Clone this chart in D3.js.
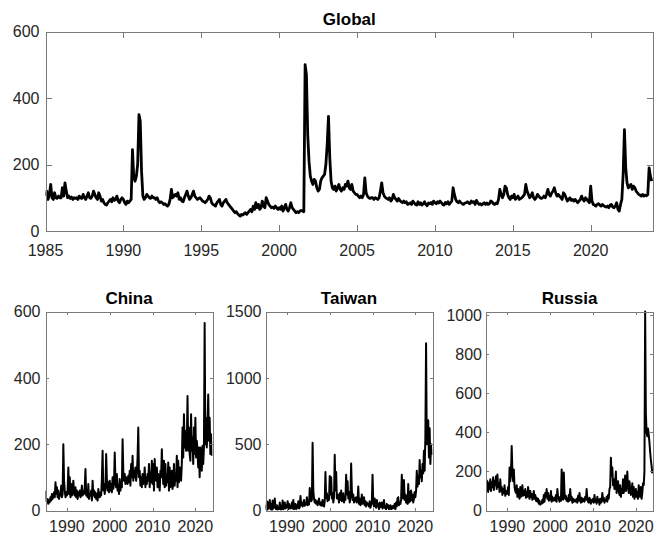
<!DOCTYPE html>
<html lang="en">
<head>
<meta charset="UTF-8">
<title>Geopolitical risk</title>
<script src="https://d3js.org/d3.v7.min.js"></script>
<style>
  body { margin: 0; background: #fff; }
  svg { display: block; font-family: "Liberation Sans", Arial, sans-serif; }
  .tick-label { font-size: 16px; fill: #262626; }
  .title { font-size: 17px; font-weight: bold; fill: #000; }
  .frame { fill: none; stroke: #7a7a7a; stroke-width: 1; }
  .tick { stroke: #7a7a7a; stroke-width: 1; }
  .series { fill: none; stroke: #000; stroke-linejoin: round; }
</style>
</head>
<body>
<script>
// monthly values, one row per year, Jan 1985 .. Dec 2023
const globalGpr = [
  [105, 120, 95, 110, 140, 100, 95, 115, 100, 98, 105, 100],
  [100, 130, 105, 145, 120, 100, 105, 98, 102, 95, 100, 98],
  [100, 95, 105, 100, 98, 110, 100, 95, 105, 115, 100, 98],
  [105, 120, 110, 100, 95, 115, 105, 90, 95, 85, 80, 78],
  [85, 90, 95, 88, 100, 92, 95, 105, 90, 85, 95, 100],
  [95, 85, 80, 90, 85, 90, 95, 245, 160, 150, 165, 200],
  [350, 330, 180, 105, 95, 100, 110, 105, 100, 98, 105, 100],
  [100, 95, 100, 90, 85, 88, 85, 80, 82, 78, 75, 80],
  [95, 125, 100, 105, 110, 105, 115, 95, 100, 90, 88, 100],
  [110, 120, 105, 95, 100, 110, 120, 105, 100, 95, 98, 100],
  [95, 90, 88, 85, 90, 95, 105, 100, 85, 80, 78, 75],
  [85, 90, 95, 80, 75, 85, 90, 95, 85, 80, 75, 70],
  [65, 60, 55, 58, 52, 48, 45, 50, 48, 52, 55, 50],
  [55, 60, 65, 58, 75, 65, 85, 70, 80, 65, 70, 90],
  [75, 70, 100, 90, 80, 75, 70, 72, 68, 75, 70, 65],
  [70, 65, 75, 60, 70, 80, 65, 60, 70, 85, 70, 65],
  [60, 55, 58, 55, 60, 62, 60, 58, 500, 470, 290, 210],
  [165, 150, 140, 155, 150, 130, 120, 125, 150, 160, 165, 170],
  [200, 260, 345, 220, 150, 130, 125, 135, 120, 130, 140, 125],
  [120, 130, 125, 140, 135, 150, 130, 125, 140, 120, 115, 110],
  [110, 105, 100, 105, 100, 110, 160, 115, 105, 100, 98, 100],
  [100, 95, 100, 98, 95, 100, 120, 145, 115, 105, 100, 98],
  [95, 100, 90, 95, 110, 100, 95, 90, 98, 92, 88, 85],
  [90, 85, 88, 80, 82, 85, 80, 90, 85, 80, 78, 88],
  [80, 85, 78, 82, 88, 80, 76, 84, 82, 86, 80, 90],
  [85, 82, 88, 84, 90, 85, 80, 78, 86, 82, 88, 80],
  [85, 90, 130, 110, 95, 88, 85, 90, 85, 82, 80, 84],
  [85, 88, 84, 82, 90, 86, 88, 80, 92, 85, 80, 82],
  [78, 82, 85, 80, 84, 80, 82, 90, 88, 82, 80, 84],
  [82, 95, 125, 110, 100, 110, 135, 130, 110, 100, 95, 105],
  [100, 110, 95, 100, 105, 95, 98, 100, 105, 110, 140, 120],
  [110, 100, 105, 115, 100, 95, 100, 110, 105, 100, 98, 100],
  [105, 100, 110, 125, 110, 105, 115, 120, 130, 115, 105, 110],
  [105, 100, 95, 115, 110, 100, 90, 95, 100, 92, 95, 90],
  [95, 90, 85, 90, 95, 105, 95, 90, 100, 95, 90, 85],
  [135, 90, 80, 78, 75, 80, 82, 78, 75, 80, 76, 74],
  [72, 75, 70, 78, 80, 72, 70, 75, 85, 65, 60, 80],
  [95, 170, 305, 190, 145, 130, 135, 140, 125, 135, 130, 120],
  [115, 110, 108, 105, 110, 105, 108, 106, 110, 190, 165, 150]
];

// two-monthly values, one row per year, 1985 .. 2023
const chinaGpr = [
  [60, 30, 25, 35, 20, 30], [25, 40, 30, 50, 35, 45], [55, 40, 85, 50, 70, 40],
  [60, 35, 50, 45, 75, 40], [50, 200, 90, 60, 40, 55], [45, 60, 130, 50, 100, 40],
  [80, 45, 60, 90, 50, 45], [70, 40, 60, 35, 55, 45], [60, 40, 50, 75, 45, 55],
  [50, 70, 125, 45, 60, 40], [80, 35, 50, 45, 60, 30], [90, 45, 60, 40, 55, 35],
  [50, 30, 65, 45, 40, 55], [45, 95, 180, 60, 80, 50], [70, 170, 95, 60, 85, 55],
  [90, 60, 80, 55, 100, 65], [80, 175, 90, 70, 110, 60], [75, 50, 95, 60, 85, 70],
  [215, 120, 90, 110, 80, 100], [95, 80, 105, 85, 120, 75], [140, 100, 165, 90, 120, 100],
  [130, 90, 110, 160, 250, 100], [120, 75, 100, 70, 110, 80], [90, 130, 70, 100, 80, 110],
  [90, 140, 70, 115, 85, 150], [80, 140, 60, 155, 100, 90], [130, 70, 110, 90, 60, 120],
  [100, 185, 120, 80, 150, 70], [140, 75, 100, 85, 145, 60], [130, 70, 100, 120, 65, 80],
  [140, 75, 110, 90, 165, 70], [150, 85, 130, 100, 90, 140], [250, 160, 290, 190, 240, 180],
  [200, 345, 180, 250, 170, 150], [290, 180, 220, 140, 250, 170], [280, 160, 210, 180, 130, 190],
  [100, 190, 150, 120, 195, 140], [190, 565, 200, 280, 190, 250], [350, 210, 280, 170, 230, 165]
];

const taiwanGpr = [
  [40, 10, 70, 5, 60, 20], [80, 10, 50, 0, 75, 15], [30, 90, 20, 10, 40, 5],
  [25, 10, 60, 15, 5, 20], [75, 10, 30, 60, 15, 40], [20, 70, 10, 50, 25, 15],
  [30, 60, 15, 80, 10, 35], [50, 10, 40, 20, 70, 15], [25, 110, 40, 60, 30, 50],
  [80, 35, 55, 45, 100, 40], [60, 45, 170, 90, 70, 80], [510, 150, 90, 60, 80, 50],
  [70, 40, 60, 90, 50, 40], [60, 35, 80, 45, 30, 70], [290, 90, 130, 70, 110, 80],
  [260, 120, 250, 90, 130, 60], [100, 420, 150, 290, 90, 120], [110, 60, 130, 80, 150, 70],
  [90, 130, 60, 100, 80, 270], [120, 220, 90, 140, 60, 100], [355, 150, 80, 120, 60, 90],
  [70, 100, 60, 80, 180, 50], [90, 40, 60, 120, 50, 70], [100, 40, 70, 30, 60, 45],
  [50, 30, 70, 20, 40, 60], [270, 60, 30, 90, 40, 20], [80, 30, 50, 10, 60, 25],
  [40, 60, 15, 30, 80, 20], [30, 10, 50, 20, 40, 10], [20, 40, 10, 30, 15, 35],
  [20, 50, 10, 60, 30, 90], [100, 40, 60, 50, 80, 270], [150, 90, 230, 80, 120, 60],
  [110, 50, 200, 60, 140, 70], [150, 80, 120, 60, 90, 140], [100, 150, 300, 180, 260, 200],
  [380, 250, 300, 220, 350, 280], [450, 300, 550, 1260, 500, 620], [680, 400, 620, 350, 500, 420]
];

const russiaGpr = [
  [170, 120, 150, 95, 140, 110], [160, 100, 145, 120, 170, 105], [150, 130, 175, 110, 185, 120],
  [140, 95, 160, 100, 120, 80], [110, 90, 130, 75, 100, 85], [95, 120, 80, 220, 150, 190],
  [330, 200, 150, 210, 120, 100], [90, 130, 70, 110, 80, 60], [120, 70, 90, 130, 75, 100],
  [80, 110, 65, 95, 70, 120], [90, 60, 100, 70, 85, 55], [75, 100, 60, 80, 50, 65],
  [45, 60, 35, 50, 30, 40], [35, 55, 40, 80, 45, 90], [70, 110, 60, 90, 50, 75],
  [55, 100, 45, 70, 50, 60], [65, 50, 80, 45, 110, 70], [60, 45, 70, 50, 210, 60],
  [55, 195, 90, 60, 75, 50], [60, 45, 80, 50, 110, 55], [70, 40, 60, 45, 55, 50],
  [45, 60, 40, 75, 50, 90], [55, 40, 65, 45, 60, 50], [45, 70, 55, 110, 60, 45],
  [40, 65, 50, 35, 55, 45], [60, 40, 80, 45, 55, 35], [70, 45, 55, 30, 60, 40],
  [45, 90, 50, 65, 40, 55], [50, 70, 45, 80, 60, 110], [120, 270, 180, 220, 130, 160],
  [110, 140, 200, 90, 120, 150], [100, 80, 130, 70, 110, 90], [160, 90, 120, 180, 100, 130],
  [200, 120, 90, 150, 110, 80], [100, 140, 70, 120, 60, 90], [110, 70, 95, 60, 130, 80],
  [70, 120, 60, 90, 140, 130], [200, 1020, 500, 400, 380, 420], [390, 350, 300, 260, 230, 190]
];

const startYear = 1985;
const endYear = 2024;

const globalYTicks = [0, 200, 400, 600];
const globalXTicks = [1985, 1990, 1995, 2000, 2005, 2010, 2015, 2020];
const smallXTicks = [1990, 2000, 2010, 2020];

const width = 654;
const height = 536;

const svg = d3.select('body').append('svg')
  .attr('width', width)
  .attr('height', height);

// turn the per-year rows into dated points
function toPoints(rows) {
  const perYear = rows[0].length;
  const pts = [];
  rows.forEach((row, i) => {
    row.forEach((v, j) => pts.push({ t: startYear + i + j / perYear, v: v }));
  });
  return pts;
}

let clipId = 0;

function drawPanel(opt) {
  const x = d3.scaleLinear().domain([startYear, endYear]).range([opt.left, opt.right]);
  const y = d3.scaleLinear().domain([0, opt.ymax]).range([opt.bottom, opt.top]);
  const g = svg.append('g');

  const id = 'clip' + (clipId++);
  svg.append('clipPath').attr('id', id)
    .append('rect')
    .attr('x', opt.left).attr('y', opt.top - 2)
    .attr('width', opt.right - opt.left).attr('height', opt.bottom - opt.top + 2);

  const line = d3.line().x(d => x(d.t)).y(d => y(d.v));
  g.append('path')
    .datum(toPoints(opt.data))
    .attr('class', 'series')
    .attr('clip-path', 'url(#' + id + ')')
    .attr('stroke-width', opt.lineWidth)
    .attr('d', line);

  // box
  g.append('rect')
    .attr('class', 'frame')
    .attr('x', Math.round(opt.left) + 0.5)
    .attr('y', Math.round(opt.top) + 0.5)
    .attr('width', Math.round(opt.right) - Math.round(opt.left))
    .attr('height', Math.round(opt.bottom) - Math.round(opt.top));

  const tl = opt.tickLen;
  // x ticks, inside, bottom and top
  opt.xTicks.forEach(t => {
    const xp = Math.round(x(t)) + 0.5;
    g.append('line').attr('class', 'tick')
      .attr('x1', xp).attr('x2', xp)
      .attr('y1', Math.round(opt.bottom)).attr('y2', Math.round(opt.bottom) - tl);
    g.append('line').attr('class', 'tick')
      .attr('x1', xp).attr('x2', xp)
      .attr('y1', Math.round(opt.top)).attr('y2', Math.round(opt.top) + tl);
    g.append('text').attr('class', 'tick-label')
      .attr('x', x(t)).attr('y', opt.xLabelY)
      .attr('text-anchor', 'middle')
      .text(t);
  });

  // y ticks, inside, left and right
  opt.yTicks.forEach(v => {
    const yp = Math.round(y(v)) + 0.5;
    g.append('line').attr('class', 'tick')
      .attr('x1', Math.round(opt.left)).attr('x2', Math.round(opt.left) + tl)
      .attr('y1', yp).attr('y2', yp);
    g.append('line').attr('class', 'tick')
      .attr('x1', Math.round(opt.right)).attr('x2', Math.round(opt.right) - tl)
      .attr('y1', yp).attr('y2', yp);
    g.append('text').attr('class', 'tick-label')
      .attr('x', opt.left - opt.yLabelGap).attr('y', y(v))
      .attr('dy', '0.36em')
      .attr('text-anchor', 'end')
      .text(v);
  });

  g.append('text').attr('class', 'title')
    .attr('x', (opt.left + opt.right) / 2).attr('y', opt.titleY)
    .attr('text-anchor', 'middle')
    .text(opt.title);
}

drawPanel({
  title: 'Global', data: globalGpr, ymax: 600,
  left: 45.5, right: 653, top: 31.5, bottom: 231,
  xTicks: globalXTicks, yTicks: globalYTicks,
  xLabelY: 256, yLabelGap: 6, titleY: 25, tickLen: 6, lineWidth: 2.8
});

const smallTop = 311.5;
const smallBottom = 510.5;

drawPanel({
  title: 'China', data: chinaGpr, ymax: 600,
  left: 45.5, right: 212.5, top: smallTop, bottom: smallBottom,
  xTicks: smallXTicks, yTicks: [0, 200, 400, 600],
  xLabelY: 532, yLabelGap: 5, titleY: 304, tickLen: 3, lineWidth: 2
});

drawPanel({
  title: 'Taiwan', data: taiwanGpr, ymax: 1500,
  left: 265.5, right: 432.5, top: smallTop, bottom: smallBottom,
  xTicks: smallXTicks, yTicks: [0, 500, 1000, 1500],
  xLabelY: 532, yLabelGap: 4, titleY: 304, tickLen: 3, lineWidth: 2
});

drawPanel({
  title: 'Russia', data: russiaGpr, ymax: 1020,
  left: 486, right: 653, top: smallTop, bottom: smallBottom,
  xTicks: smallXTicks, yTicks: [0, 200, 400, 600, 800, 1000],
  xLabelY: 532, yLabelGap: 4, titleY: 304, tickLen: 3, lineWidth: 2
});
</script>
</body>
</html>
